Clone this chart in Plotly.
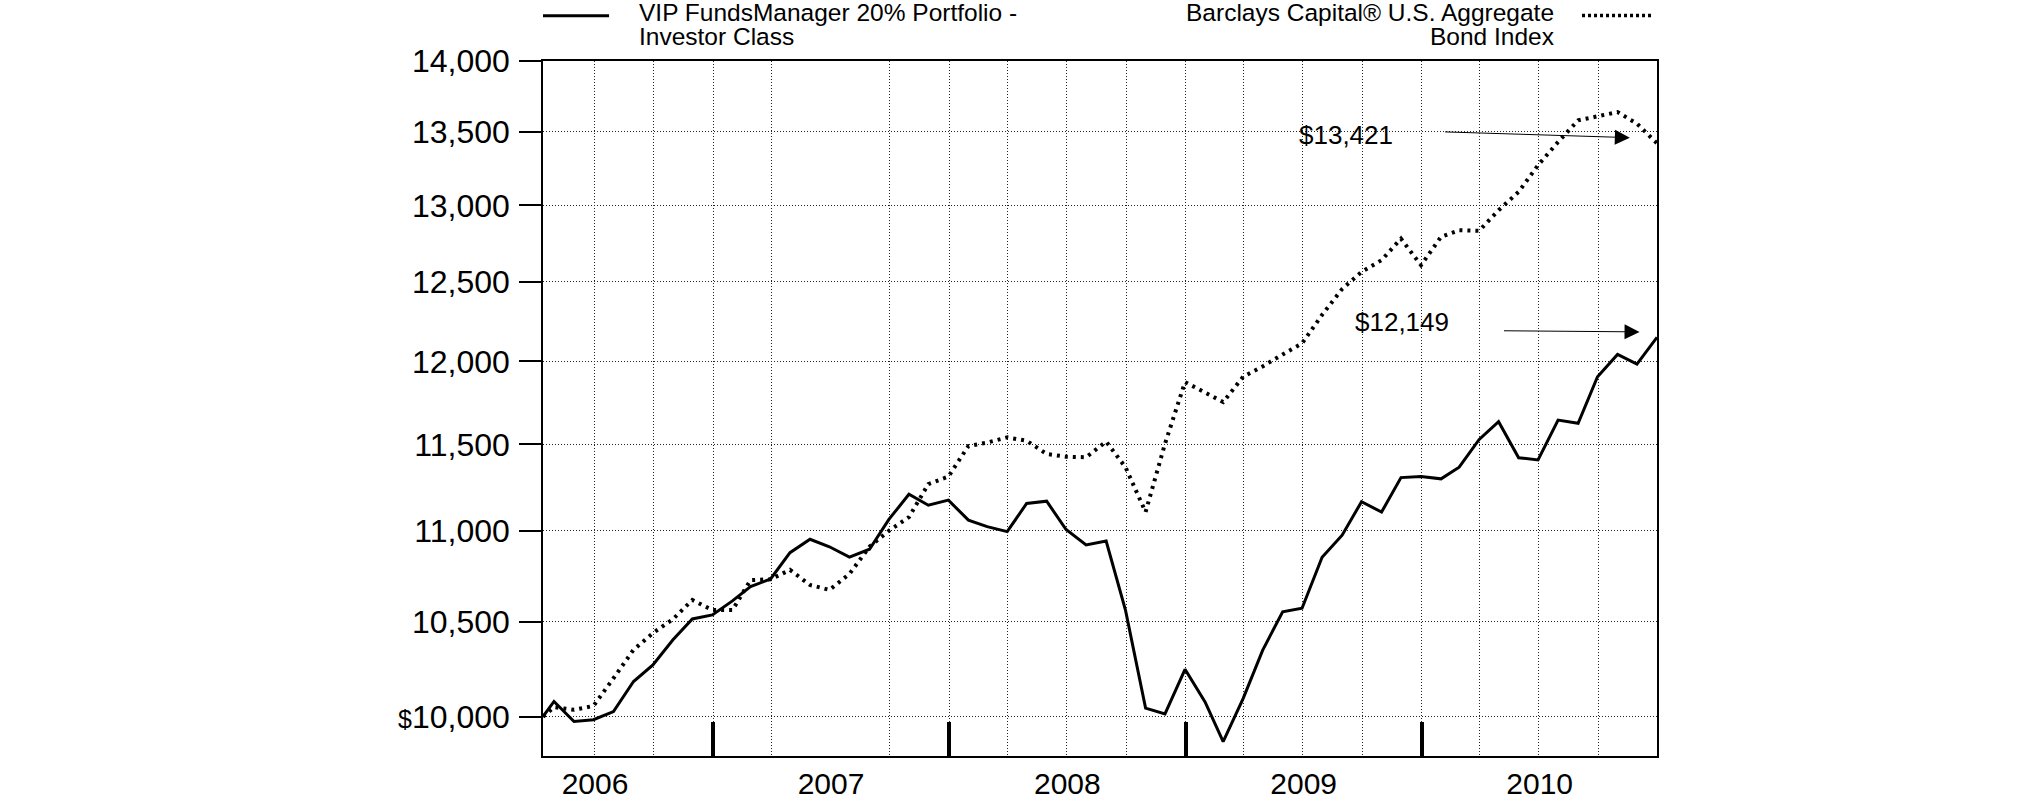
import math
import pandas as pd
import plotly.graph_objects as go

# ---------------- data ----------------
start_date = "2006-04-13"
month_ends = list(pd.date_range("2006-04-30", "2010-12-31", freq="ME"))
dates = [pd.Timestamp(start_date)] + month_ends

fund_values = [
    10000,
    10078, 9975, 9984, 10026, 10182, 10269, 10402, 10514, 10536,
    10612, 10690, 10732, 10878, 10953, 10911, 10853, 10897, 11065, 11209, 11146, 11175,
    11061, 11024, 10996, 11156, 11169, 11008, 10921, 10943, 10560, 10044, 10014, 10246,
    10076, 9873, 10094, 10346, 10553, 10572, 10852, 10976, 11166, 11107, 11305, 11311,
    11298, 11366, 11529, 11634, 11421, 11408, 11644, 11625, 11906, 12043, 11983, 12149,
]
index_values = [
    10000,
    10049, 10035, 10055, 10199, 10349, 10438, 10513, 10617, 10562,
    10562, 10726, 10730, 10782, 10699, 10672, 10760, 10911, 11001, 11078, 11268, 11311,
    11490, 11510, 11541, 11521, 11443, 11427, 11424, 11516, 11365, 11107, 11503, 11873,
    11810, 11752, 11906, 11969, 12043, 12111, 12290, 12454, 12564, 12640, 12780, 12607,
    12792, 12836, 12832, 12968, 13091, 13271, 13430, 13580, 13608, 13638, 13557, 13421,
]

fund_name_lines = ["VIP FundsManager 20% Portfolio -", "Investor Class"]
index_name_lines = ["Barclays Capital\u00ae U.S. Aggregate", "Bond Index"]

y_tick_vals = [10000, 10500, 11000, 11500, 12000, 12500, 13000, 13500, 14000]
y_tick_text = ["<span style='font-size:25px'>$</span>10,000", "10,500", "11,000", "11,500",
               "12,000", "12,500", "13,000", "13,500", "14,000"]

fund_end_label = "$12,149"
index_end_label = "$13,421"

# quarterly vertical grid (one quarter line absent in the original)
quarter_grid = [d for d in pd.date_range("2006-07-01", "2010-10-01", freq="QS")
                if d != pd.Timestamp("2007-07-01")]

# ---------------- figure ----------------
BLACK = "black"
GRID = "#222222"
FONT = "Liberation Sans, Arial, Helvetica, sans-serif"
NARROW = "Liberation Sans Narrow, Arial Narrow, Liberation Sans, Arial, sans-serif"

fig = go.Figure()
fig.add_trace(go.Scatter(x=dates, y=index_values, mode="lines", name="index",
                         line=dict(color=BLACK, width=4, dash="3px,5px")))
fig.add_trace(go.Scatter(x=dates, y=fund_values, mode="lines", name="fund",
                         line=dict(color=BLACK, width=3)))

L = math.log10
LEG_FONT = dict(family=FONT, size=24.5, color=BLACK)
line_y = [1.0691, 1.0354]   # paper y of the two legend text lines

annotations = []
for i, t in enumerate(fund_name_lines):
    annotations.append(dict(x=0.0841, y=line_y[i], xref="paper", yref="paper",
                            xanchor="left", yanchor="middle", text=t, showarrow=False,
                            font=LEG_FONT))
for i, t in enumerate(index_name_lines):
    annotations.append(dict(x=0.9093, y=line_y[i], xref="paper", yref="paper",
                            xanchor="right", yanchor="middle", text=t, showarrow=False,
                            font=LEG_FONT))

annotations += [
    # end-value labels
    dict(x="2009-09-06", y=L(13477), xref="x", yref="y", xanchor="center", yanchor="middle",
         text=index_end_label, showarrow=False, font=dict(family=FONT, size=26, color=BLACK)),
    dict(x="2009-12-02", y=L(12248), xref="x", yref="y", xanchor="center", yanchor="middle",
         text=fund_end_label, showarrow=False, font=dict(family=FONT, size=26, color=BLACK)),
    # arrows
    dict(x="2010-11-19", y=L(13460), ax="2010-02-04", ay=L(13500), xref="x", yref="y",
         axref="x", ayref="y", text="", showarrow=True, arrowhead=2, arrowsize=3,
         arrowwidth=1, arrowcolor=BLACK, standoff=0, startstandoff=0),
    dict(x="2010-12-04", y=L(12183), ax="2010-05-06", ay=L(12190), xref="x", yref="y",
         axref="x", ayref="y", text="", showarrow=True, arrowhead=2, arrowsize=3,
         arrowwidth=1, arrowcolor=BLACK, standoff=0, startstandoff=0),
]

shapes = [
    dict(type="line", xref="paper", yref="paper", x0=0.0, x1=0.0593, y0=1.0652, y1=1.0652,
         line=dict(color=BLACK, width=3)),
    dict(type="line", xref="paper", yref="paper", x0=0.9327, x1=0.9964, y0=1.0655, y1=1.0655,
         line=dict(color=BLACK, width=3.5, dash="3px,3px")),
]

fig.update_layout(
    width=2025, height=806,
    margin=dict(l=543, r=368, t=61, b=50, pad=0, autoexpand=False),
    paper_bgcolor="white", plot_bgcolor="white",
    showlegend=False,
    annotations=annotations,
    shapes=shapes,
    xaxis=dict(
        type="date", range=[dates[0], dates[-1]], automargin=False,
        showline=True, linecolor=BLACK, linewidth=1.5, mirror=True,
        ticks="inside", ticklen=34, tickwidth=4, tickcolor=BLACK,
        dtick="M12", tick0="2006-01-01", ticklabelmode="period", tickformat="%Y",
        tickfont=dict(family=NARROW, size=30, color=BLACK),
        showgrid=True, gridcolor=GRID, gridwidth=1, griddash="1px,2px",
        minor=dict(tickmode="array", tickvals=quarter_grid, showgrid=True,
                   gridcolor=GRID, gridwidth=1, griddash="1px,2px", ticks=""),
        zeroline=False, fixedrange=True,
    ),
    yaxis=dict(
        type="log", range=[L(9800), L(14000)], automargin=False,
        tickmode="array", tickvals=y_tick_vals, ticktext=y_tick_text,
        ticks="outside", ticklen=22, tickwidth=1.5, tickcolor=BLACK,
        showline=True, linecolor=BLACK, linewidth=1.5, mirror=True,
        showgrid=True, gridcolor=GRID, gridwidth=1, griddash="1px,2px",
        tickfont=dict(family=FONT, size=32, color=BLACK),
        ticklabelstandoff=3, zeroline=False, fixedrange=True,
    ),
)

fig.write_html("out.html", config={"displayModeBar": False},
               post_script="document.body.style.margin='0';document.body.style.padding='0';")
